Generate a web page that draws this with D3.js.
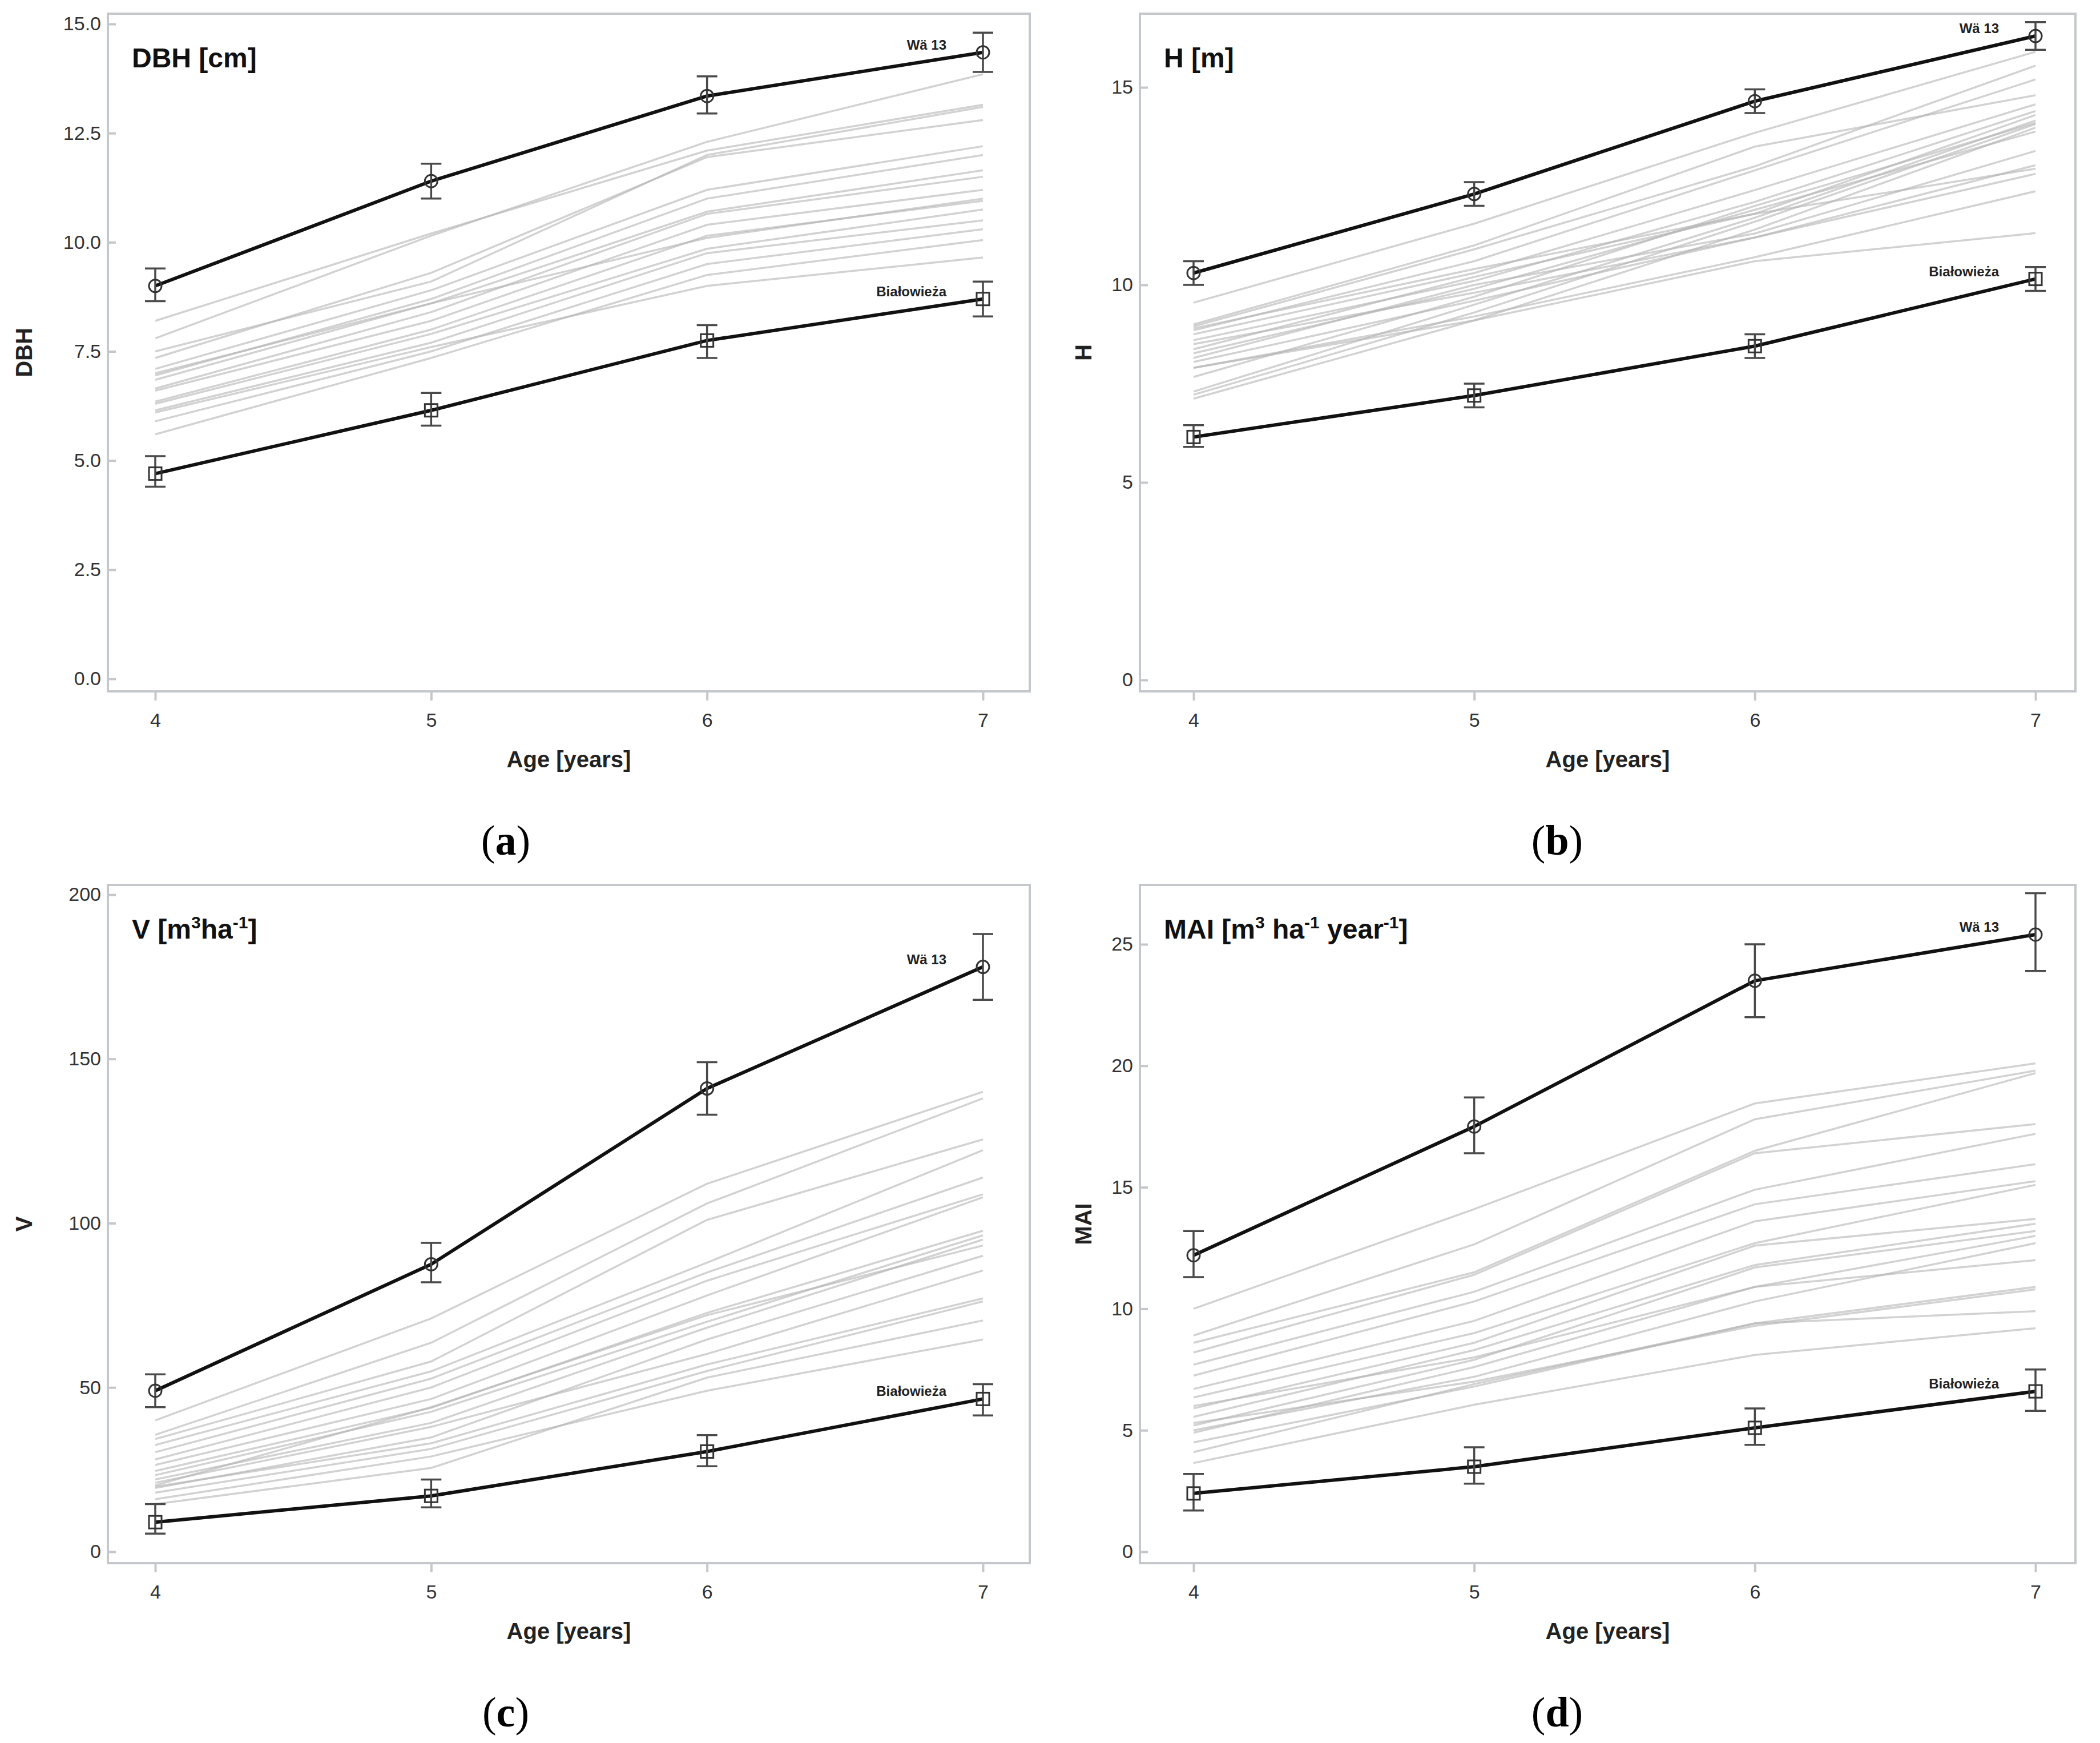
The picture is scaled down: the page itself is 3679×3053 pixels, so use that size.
<!DOCTYPE html>
<html>
<head>
<meta charset="utf-8">
<script src="https://cdn.jsdelivr.net/npm/d3@7"></script>
<style>
  body { margin: 0; background: #fff; }
</style>
</head>
<body>
<svg id="fig" width="3679" height="3053"></svg>
<script>
// ages on the x axis
const ages = [4, 5, 6, 7];
const ageTicks = [4, 5, 6, 7];

// tick labels
const dbhTicks = [0, 2.5, 5, 7.5, 10, 12.5, 15];
const hTicks = [0, 5, 10, 15];
const vTicks = [0, 50, 100, 150, 200];
const maiTicks = [0, 5, 10, 15, 20, 25];

// DBH [cm]
const dbhWa = [9.0, 11.4, 13.35, 14.35];
const dbhWaLo = [8.65, 11.0, 12.95, 13.9];
const dbhWaHi = [9.4, 11.8, 13.8, 14.8];
const dbhBia = [4.7, 6.15, 7.75, 8.7];
const dbhBiaLo = [4.4, 5.8, 7.35, 8.3];
const dbhBiaHi = [5.1, 6.55, 8.1, 9.1];
const dbhOthers = [
  [8.2, 10.2, 12.1, 13.15],
  [7.8, 10.15, 12.3, 13.85],
  [7.5, 9.1, 12.0, 13.1],
  [7.35, 9.3, 11.95, 12.8],
  [7.1, 8.9, 11.2, 12.2],
  [6.95, 8.7, 11.0, 12.0],
  [6.85, 8.6, 10.7, 11.65],
  [6.65, 8.4, 10.65, 11.5],
  [6.6, 8.2, 10.4, 11.2],
  [6.35, 8.0, 10.15, 10.95],
  [6.3, 7.9, 9.85, 10.75],
  [6.15, 7.7, 9.75, 10.5],
  [5.9, 7.5, 9.5, 10.3],
  [5.6, 7.35, 9.25, 10.05],
  [6.1, 7.6, 9.0, 9.65],
  [7.0, 8.6, 10.1, 11.0]
];

// H [m]
const hWa = [10.3, 12.3, 14.65, 16.3];
const hWaLo = [10.0, 12.0, 14.35, 15.95];
const hWaHi = [10.6, 12.6, 14.95, 16.65];
const hBia = [6.15, 7.2, 8.45, 10.15];
const hBiaLo = [5.9, 6.9, 8.15, 9.85];
const hBiaHi = [6.45, 7.5, 8.75, 10.45];
const hOthers = [
  [9.55, 11.55, 13.85, 15.9],
  [8.95, 10.9, 13.0, 15.55],
  [8.85, 10.6, 12.9, 15.2],
  [8.75, 10.3, 12.4, 14.57],
  [8.6, 10.1, 12.1, 14.4],
  [8.37, 10.2, 11.8, 14.3],
  [7.3, 9.5, 11.7, 14.16],
  [7.22, 9.3, 11.6, 14.07],
  [7.12, 9.1, 11.4, 13.98],
  [7.67, 9.7, 12.0, 14.1],
  [8.27, 9.9, 11.9, 13.88],
  [8.15, 10.0, 11.3, 13.39],
  [8.05, 9.6, 11.2, 13.03],
  [8.9, 10.4, 11.8, 12.94],
  [8.5, 9.8, 11.2, 12.81],
  [7.9, 9.2, 10.7, 12.37],
  [7.9, 9.1, 10.6, 11.31],
  [9.0, 11.0, 13.5, 14.8]
];

// V [m3 ha-1]
const vWa = [49, 87.5, 141, 178];
const vWaLo = [44, 82, 133, 168];
const vWaHi = [54, 94, 149, 188];
const vBia = [9, 17, 30.5, 46.5];
const vBiaLo = [5.5, 13.5, 26, 41.5];
const vBiaHi = [14.5, 22, 35.5, 51];
const vOthers = [
  [40, 71, 112, 140],
  [35.6, 63.6, 106, 138],
  [34.3, 57.9, 101, 125.5],
  [32.5, 54.9, 88, 122.2],
  [30.3, 52.7, 85, 113.9],
  [28.1, 50, 82.5, 108.8],
  [26.4, 46.5, 78, 107.9],
  [24.6, 43.8, 72.7, 97.7],
  [23.3, 42.6, 70, 96.3],
  [22, 39.2, 68.2, 95],
  [20.2, 44, 72, 93.2],
  [19.4, 34.8, 64.6, 90.1],
  [21, 38, 60.2, 85.6],
  [19.8, 33, 57, 77.1],
  [18, 31.3, 55, 76.2],
  [14.5, 25.5, 53, 70.4],
  [16, 29, 49, 64.6]
];

// MAI [m3 ha-1 year-1]
const maiWa = [12.2, 17.5, 23.5, 25.4];
const maiWaLo = [11.3, 16.4, 22.0, 23.9];
const maiWaHi = [13.2, 18.7, 25.0, 27.1];
const maiBia = [2.4, 3.5, 5.1, 6.6];
const maiBiaLo = [1.7, 2.8, 4.4, 5.8];
const maiBiaHi = [3.2, 4.3, 5.9, 7.5];
const maiOthers = [
  [10.0, 14.1, 18.45, 20.1],
  [8.9, 12.65, 17.8, 19.8],
  [8.6, 11.5, 16.5, 19.7],
  [8.2, 11.4, 16.4, 17.6],
  [7.7, 10.7, 14.9, 17.2],
  [7.25, 10.3, 14.3, 15.95],
  [6.7, 9.5, 13.6, 15.25],
  [6.35, 9.0, 12.7, 15.1],
  [5.9, 8.6, 12.6, 13.7],
  [5.55, 8.3, 11.8, 13.5],
  [5.2, 7.9, 11.7, 13.2],
  [4.9, 7.6, 10.9, 13.0],
  [5.0, 7.2, 10.3, 12.7],
  [6.0, 8.0, 10.9, 12.0],
  [4.1, 6.9, 9.4, 10.9],
  [5.3, 7.0, 9.3, 10.8],
  [3.65, 6.05, 8.1, 9.2],
  [4.5, 6.8, 9.4, 9.9]
];

const seriesNames = ["Wä 13", "Białowieża"];
const panelLetters = ["a", "b", "c", "d"];

const SANS = "'Liberation Sans', Arial, sans-serif";
const SERIF = "'Liberation Serif', 'Times New Roman', serif";
const FRAME = "#c4c8cc";

const svg = d3.select("#fig");

const panels = [
  {
    letter: panelLetters[0], yName: "DBH",
    title: [["DBH [cm]", 0]],
    ticks: dbhTicks, fmt: d3.format(".1f"), yMax: 15,
    wa: dbhWa, waLo: dbhWaLo, waHi: dbhWaHi,
    bia: dbhBia, biaLo: dbhBiaLo, biaHi: dbhBiaHi, others: dbhOthers,
    left: 189, right: 1804, top: 24, bottom: 1211,
    x4: 272, x7: 1722, y0: 1189, yMaxPx: 42,
    yTitleX: 42, letterX: 886, letterY: 1497
  },
  {
    letter: panelLetters[1], yName: "H",
    title: [["H [m]", 0]],
    ticks: hTicks, fmt: d3.format("d"), yMax: 15,
    wa: hWa, waLo: hWaLo, waHi: hWaHi,
    bia: hBia, biaLo: hBiaLo, biaHi: hBiaHi, others: hOthers,
    left: 1997, right: 3636, top: 24, bottom: 1211,
    x4: 2091, x7: 3566, y0: 1191, yMaxPx: 153,
    yTitleX: 1898, letterX: 2728, letterY: 1497
  },
  {
    letter: panelLetters[2], yName: "V",
    title: [["V [m", 0], ["3", 1], ["ha", 0], ["-1", 1], ["]", 0]],
    ticks: vTicks, fmt: d3.format("d"), yMax: 200,
    wa: vWa, waLo: vWaLo, waHi: vWaHi,
    bia: vBia, biaLo: vBiaLo, biaHi: vBiaHi, others: vOthers,
    left: 189, right: 1804, top: 1550, bottom: 2738,
    x4: 272, x7: 1722, y0: 2718, yMaxPx: 1567,
    yTitleX: 42, letterX: 886, letterY: 3024
  },
  {
    letter: panelLetters[3], yName: "MAI",
    title: [["MAI [m", 0], ["3", 1], [" ha", 0], ["-1", 1], [" year", 0], ["-1", 1], ["]", 0]],
    ticks: maiTicks, fmt: d3.format("d"), yMax: 25,
    wa: maiWa, waLo: maiWaLo, waHi: maiWaHi,
    bia: maiBia, biaLo: maiBiaLo, biaHi: maiBiaHi, others: maiOthers,
    left: 1997, right: 3636, top: 1550, bottom: 2738,
    x4: 2091, x7: 3566, y0: 2718, yMaxPx: 1654,
    yTitleX: 1898, letterX: 2728, letterY: 3024
  }
];

function drawPanel(p) {
  const g = svg.append("g");
  const x = d3.scaleLinear().domain([4, 7]).range([p.x4, p.x7]);
  const y = d3.scaleLinear().domain([0, p.yMax]).range([p.y0, p.yMaxPx]);

  // frame
  g.append("rect")
    .attr("x", p.left).attr("y", p.top)
    .attr("width", p.right - p.left).attr("height", p.bottom - p.top)
    .attr("fill", "none").attr("stroke", FRAME).attr("stroke-width", 4);

  // y axis, ticks pointing in
  const ya = g.append("g")
    .attr("transform", `translate(${p.left},0)`)
    .call(d3.axisLeft(y).tickValues(p.ticks).tickFormat(p.fmt)
      .tickSizeInner(-14).tickSizeOuter(0).tickPadding(12));
  ya.select(".domain").remove();
  ya.selectAll("line").attr("stroke", FRAME).attr("stroke-width", 4);
  ya.selectAll("text").attr("font-size", 34).attr("font-family", SANS).attr("fill", "#333");

  // x axis, ticks pointing out
  const xa = g.append("g")
    .attr("transform", `translate(0,${p.bottom})`)
    .call(d3.axisBottom(x).tickValues(ageTicks).tickFormat(d3.format("d"))
      .tickSizeInner(16).tickSizeOuter(0).tickPadding(22));
  xa.select(".domain").remove();
  xa.selectAll("line").attr("stroke", FRAME).attr("stroke-width", 4);
  xa.selectAll("text").attr("font-size", 34).attr("font-family", SANS).attr("fill", "#333");

  // axis titles
  g.append("text")
    .attr("x", (p.left + p.right) / 2).attr("y", p.bottom + 133)
    .attr("text-anchor", "middle")
    .attr("font-family", SANS).attr("font-weight", "bold").attr("font-size", 40)
    .attr("fill", "#222")
    .text("Age [years]");

  g.append("text")
    .attr("transform", `translate(${p.yTitleX + 14},${(p.top + p.bottom) / 2}) rotate(-90)`)
    .attr("text-anchor", "middle")
    .attr("font-family", SANS).attr("font-weight", "bold").attr("font-size", 40)
    .attr("fill", "#222")
    .text(p.yName);

  // title inside the frame
  const t = g.append("text")
    .attr("x", p.left + 42).attr("y", p.top + 94)
    .attr("font-family", SANS).attr("font-weight", "bold").attr("font-size", 48)
    .attr("fill", "#111");
  let shifted = false;
  p.title.forEach(([txt, sup]) => {
    const span = t.append("tspan").text(txt);
    if (sup) {
      span.attr("font-size", 30).attr("dy", shifted ? 0 : -18);
      shifted = true;
    } else {
      span.attr("dy", shifted ? 18 : 0);
      shifted = false;
    }
  });

  const line = d3.line()
    .x((d, i) => x(ages[i]))
    .y((d) => y(d));

  // the other provenances
  g.append("g")
    .selectAll("path")
    .data(p.others)
    .join("path")
    .attr("d", line)
    .attr("fill", "none")
    .attr("stroke", "#b4b4b4")
    .attr("stroke-opacity", 0.6)
    .attr("stroke-width", 3.5);

  // highlighted provenances
  const highlighted = [
    { name: seriesNames[0], vals: p.wa, lo: p.waLo, hi: p.waHi, shape: "circle" },
    { name: seriesNames[1], vals: p.bia, lo: p.biaLo, hi: p.biaHi, shape: "square" }
  ];

  highlighted.forEach((s) => {
    g.append("path")
      .attr("d", line(s.vals))
      .attr("fill", "none")
      .attr("stroke", "#111")
      .attr("stroke-width", 6)
      .attr("stroke-linejoin", "round");

    const eb = g.append("g").attr("stroke", "#4a4a4a").attr("stroke-width", 3.5);
    ages.forEach((a, i) => {
      const cx = x(a);
      eb.append("line").attr("x1", cx).attr("x2", cx).attr("y1", y(s.lo[i])).attr("y2", y(s.hi[i]));
      eb.append("line").attr("x1", cx - 18).attr("x2", cx + 18).attr("y1", y(s.lo[i])).attr("y2", y(s.lo[i]));
      eb.append("line").attr("x1", cx - 18).attr("x2", cx + 18).attr("y1", y(s.hi[i])).attr("y2", y(s.hi[i]));
    });

    const mk = g.append("g").attr("fill", "none").attr("stroke", "#333").attr("stroke-width", 3);
    ages.forEach((a, i) => {
      if (s.shape === "circle") {
        mk.append("circle").attr("cx", x(a)).attr("cy", y(s.vals[i])).attr("r", 11);
      } else {
        mk.append("rect").attr("x", x(a) - 11).attr("y", y(s.vals[i]) - 11)
          .attr("width", 22).attr("height", 22);
      }
    });

    g.append("text")
      .attr("x", x(7) - 64)
      .attr("y", y(s.vals[3]) - 5)
      .attr("text-anchor", "end")
      .attr("font-family", SANS).attr("font-weight", "bold").attr("font-size", 24)
      .attr("fill", "#222")
      .text(s.name);
  });

  // panel letter
  const lt = svg.append("text")
    .attr("x", p.letterX)
    .attr("y", p.letterY)
    .attr("text-anchor", "middle")
    .attr("font-family", SERIF).attr("font-size", 74).attr("fill", "#000");
  lt.append("tspan").text("(");
  lt.append("tspan").attr("font-weight", "bold").text(p.letter);
  lt.append("tspan").text(")");
}

panels.forEach(drawPanel);
</script>
</body>
</html>
